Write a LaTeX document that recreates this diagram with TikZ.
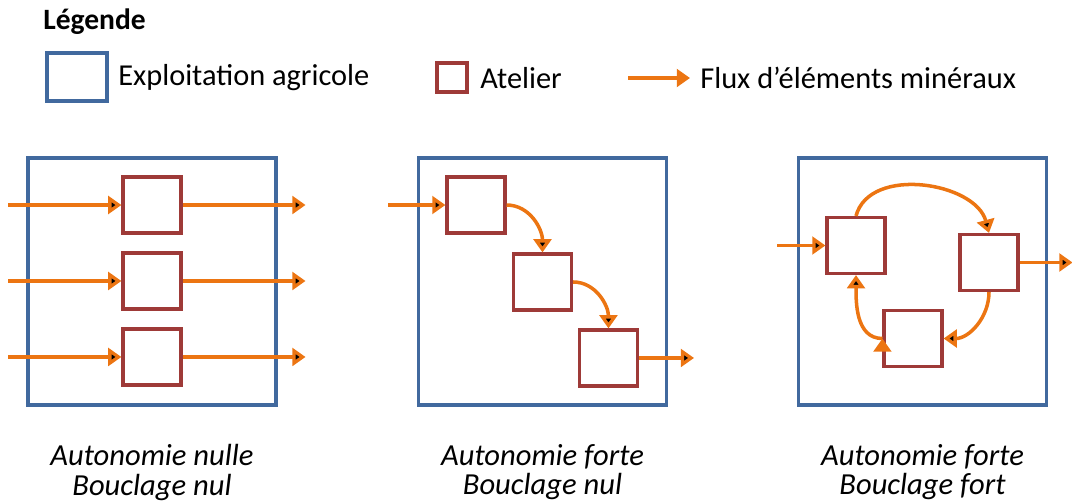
\documentclass[tikz,border=0pt]{standalone}
\usepackage{fontspec}
\setmainfont{Carlito}
\usetikzlibrary{arrows.meta,positioning}
\definecolor{bleuferme}{HTML}{41699E}
\definecolor{rougeatelier}{HTML}{9E3A38}
\definecolor{orangeflux}{HTML}{EC7512}

\begin{document}
\begin{tikzpicture}[x=0.02cm,y=-0.02cm,node distance=1.52cm,on grid,
 ferme/.style={draw=bleuferme,line width=1.9pt,minimum width=4.96cm,minimum height=4.94cm,inner sep=0pt},
 atelier/.style={draw=rougeatelier,line width=1.8pt,minimum width=1.16cm,minimum height=1.12cm,inner sep=0pt},
 flux/.style={draw=orangeflux,line width=2pt,-{Triangle[length=7.5pt,width=10pt]}},
 legende/.style={anchor=west,inner sep=0pt,font=\fontsize{17.3}{20}\selectfont},
 titre/.style={align=center,font=\fontsize{17.4}{16.6}\selectfont\itshape}]

 \useasboundingbox (0,0) rectangle (1072,501);

 % legende
 \node[legende,font=\fontsize{16.8}{19}\selectfont\bfseries] (leg) at (43,22) {Légende};
 \node[ferme,minimum width=1.2cm,minimum height=0.96cm] (lferme) at (77,77) {};
 \node[legende] (tferme) at (118,78) {Exploitation agricole};
 \node[atelier,minimum width=0.6cm,minimum height=0.58cm] (latelier) at (452,77.5) {};
 \node[legende] (tatelier) at (480,78) {Atelier};
 \coordinate (lf1) at (628,78);
 \coordinate (lf2) at (690,78);
 \node[legende] (tflux) at (700,78) {Flux d’éléments minéraux};

 % exploitations
 \node[ferme] (f1) at (152,281.5) {};
 \node[ferme] (f2) at (542.5,281.5) {};
 \node[ferme] (f3) at (922.5,281.5) {};

 % autonomie nulle, bouclage nul
 \node[atelier] (a1) at (152,205) {};
 \node[atelier] (b1) [below=of a1] {};
 \node[atelier] (c1) [below=of b1] {};
 \coordinate[left=2.26cm of a1.west] (ea1);
 \coordinate[left=2.26cm of b1.west] (eb1);
 \coordinate[left=2.26cm of c1.west] (ec1);
 \coordinate[right=2.46cm of a1.east] (sa1);
 \coordinate[right=2.46cm of b1.east] (sb1);
 \coordinate[right=2.46cm of c1.east] (sc1);

 % autonomie forte, bouclage nul
 \node[atelier] (a2) at (476,205) {};
 \node[atelier] (b2) [below right=1.54cm and 1.33cm of a2] {};
 \node[atelier] (c2) [below right=1.52cm and 1.32cm of b2] {};
 \coordinate[left=1.14cm of a2.west] (e2);
 \coordinate[right=1.1cm of c2.east] (s2);

 % autonomie forte, bouclage fort
 \node[atelier] (a3) at (856,245.5) {};
 \node[atelier] (b3) at (989,262.5) {};
 \node[atelier] (c3) at (913,338.5) {};
 \coordinate[left=0.96cm of a3.west] (e3);
 \coordinate[right=1.06cm of b3.east] (s3);

 \draw[flux] (lf1) -- (lf2);
 \path[flux]
 (ea1) edge (a1) (a1) edge (sa1)
 (eb1) edge (b1) (b1) edge (sb1)
 (ec1) edge (c1) (c1) edge (sc1)
 (e2) edge (a2) (c2) edge (s2)
 (a2.east) edge[out=0,in=90] (b2.north)
 (b2.east) edge[out=0,in=90] (c2.north)
 (e3) edge (a3) (b3) edge (s3)
 (a3.north) edge[out=75,in=105] (b3.north)
 (b3.south) edge[out=-90,in=0] (c3.east)
 (c3.west) edge[out=180,in=-90] (a3.south)
 ;

 % titres
 \node[titre] (t1) at (152,472.5) {Autonomie nulle\\Bouclage nul};
 \node[titre] (t2) at (542.5,472.5) {Autonomie forte\\Bouclage nul};
 \node[titre] (t3) at (922.5,472.5) {Autonomie forte\\Bouclage fort};
\end{tikzpicture}
\end{document}
